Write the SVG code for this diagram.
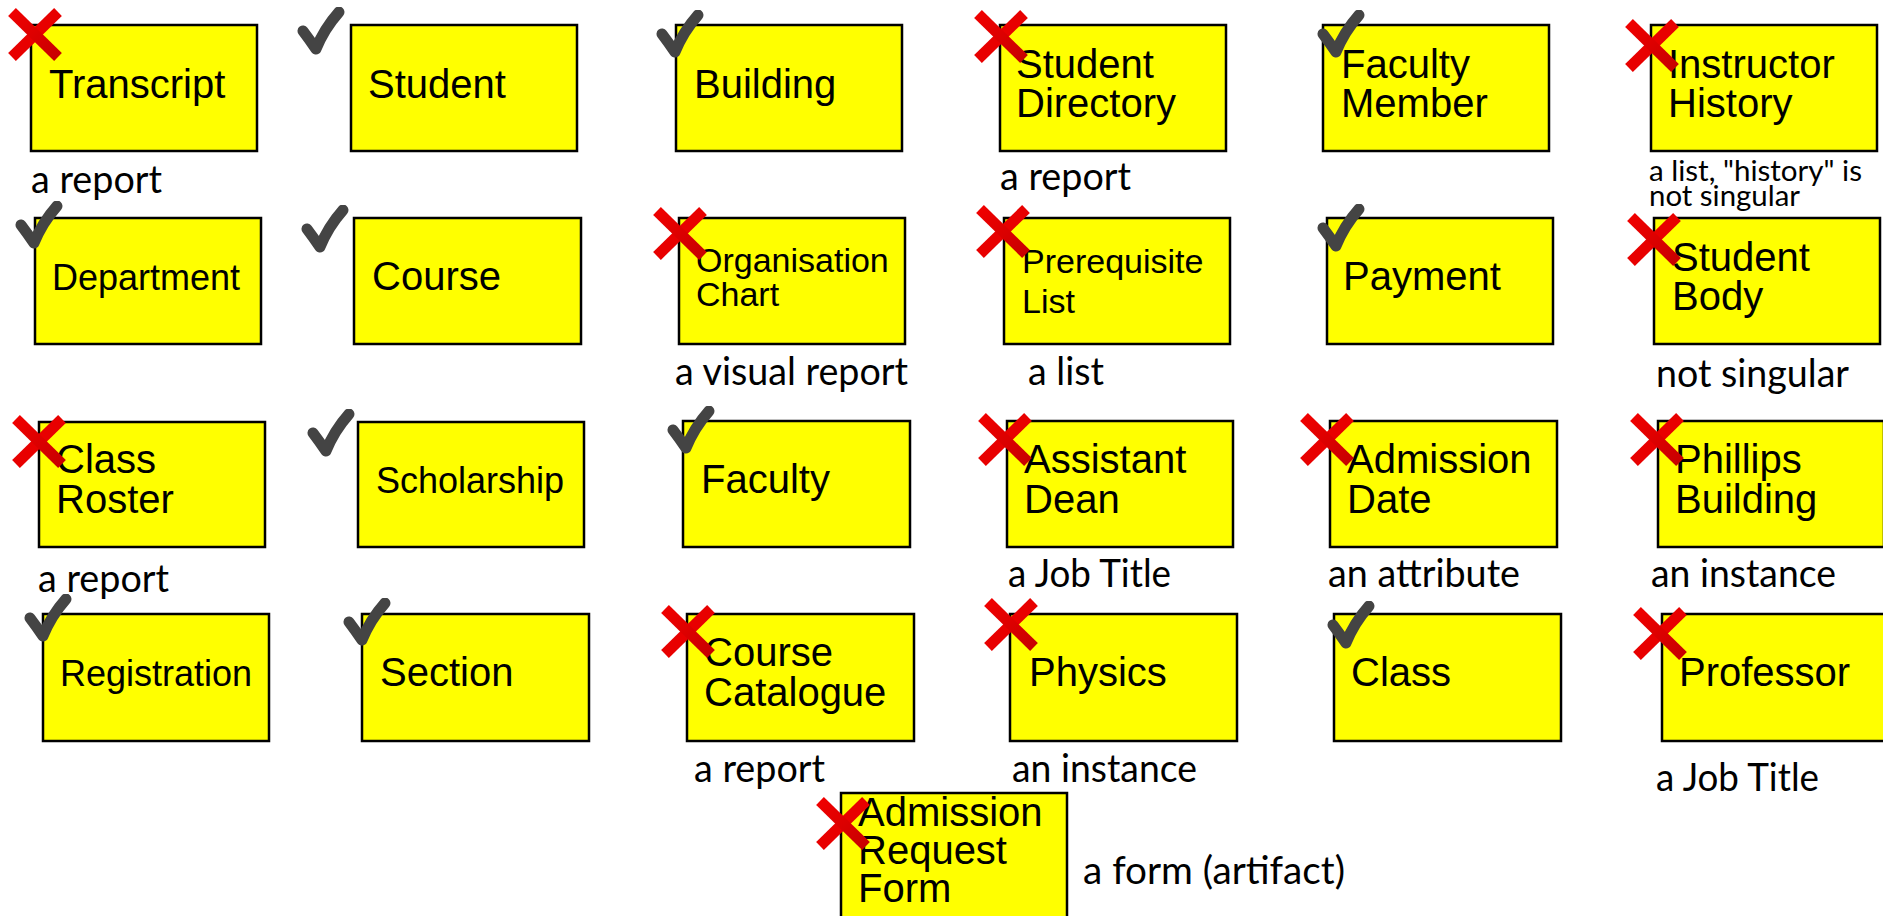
<svg xmlns="http://www.w3.org/2000/svg" xmlns:xlink="http://www.w3.org/1999/xlink" width="1883" height="916" viewBox="0 0 1883 916">
<defs>
  <linearGradient id="xg" x1="0" y1="0" x2="1" y2="1">
    <stop offset="0" stop-color="#f00000"/>
    <stop offset="1" stop-color="#c80000"/>
  </linearGradient>
  <symbol id="cross" viewBox="0 0 54 53">
    <line x1="50" y1="4" x2="4" y2="49" stroke="#e80000" stroke-width="11"/>
    <line x1="4" y1="4" x2="50" y2="49" stroke="url(#xg)" stroke-width="11"/>
  </symbol>
  <symbol id="check" viewBox="0 0 48 48">
    <path d="M6,24 Q12,32 19,42 Q27,22 42,5" fill="none" stroke="#444" stroke-width="11" stroke-linecap="round" stroke-linejoin="round"/>
  </symbol>
</defs>
<style>
  .box{fill:#ffff00;stroke:#000;stroke-width:2.5}
  .lbl{font-family:"Liberation Sans",Arial,sans-serif;font-size:40px;fill:#000}
  .s36{font-size:36px}
  .s34{font-size:34px}
  .note{font-family:Lato,"Open Sans",sans-serif;font-size:39px;fill:#000}
  .small{font-size:29px}
</style>
<rect width="1883" height="916" fill="#fff"/>
<g id="connectors"/>

<g id="n-transcript">
  <rect class="box" x="31" y="25" width="226" height="126"/>
  <text class="lbl" x="49" y="98">Transcript</text>
  <use xlink:href="#cross" x="8" y="8" width="54" height="53"/>
  <text class="note" x="31" y="193" textLength="131" lengthAdjust="spacingAndGlyphs">a report</text>
</g>
<g id="n-student">
  <rect class="box" x="351" y="25" width="226" height="126"/>
  <text class="lbl" x="368" y="98">Student</text>
  <use xlink:href="#check" x="297" y="7" width="48" height="48"/>
</g>
<g id="n-building">
  <rect class="box" x="676" y="25" width="226" height="126"/>
  <text class="lbl" x="694" y="98">Building</text>
  <use xlink:href="#check" x="656" y="10" width="48" height="48"/>
</g>
<g id="n-student-directory">
  <rect class="box" x="1000" y="25" width="226" height="126"/>
  <text class="lbl" x="1016" y="78">Student</text>
  <text class="lbl" x="1016" y="117">Directory</text>
  <use xlink:href="#cross" x="974" y="10" width="54" height="53"/>
  <text class="note" x="1000" y="190" textLength="131" lengthAdjust="spacingAndGlyphs">a report</text>
</g>
<g id="n-faculty-member">
  <rect class="box" x="1323" y="25" width="226" height="126"/>
  <text class="lbl" x="1341" y="78">Faculty</text>
  <text class="lbl" x="1341" y="117">Member</text>
  <use xlink:href="#check" x="1317" y="10" width="48" height="48"/>
</g>
<g id="n-instructor-history">
  <rect class="box" x="1651" y="25" width="226" height="126"/>
  <text class="lbl" x="1668" y="78">Instructor</text>
  <text class="lbl" x="1668" y="117">History</text>
  <use xlink:href="#cross" x="1625" y="19" width="54" height="53"/>
  <text class="note small" x="1649" y="181" textLength="213" lengthAdjust="spacingAndGlyphs">a list, "history" is</text>
  <text class="note small" x="1649" y="206" textLength="151" lengthAdjust="spacingAndGlyphs">not singular</text>
</g>

<g id="n-department">
  <rect class="box" x="35" y="218" width="226" height="126"/>
  <text class="lbl s36" x="52" y="290">Department</text>
  <use xlink:href="#check" x="15" y="201" width="48" height="48"/>
</g>
<g id="n-course">
  <rect class="box" x="354" y="218" width="227" height="126"/>
  <text class="lbl" x="372" y="290">Course</text>
  <use xlink:href="#check" x="301" y="205" width="48" height="48"/>
</g>
<g id="n-organisation-chart">
  <rect class="box" x="679" y="218" width="226" height="126"/>
  <text class="lbl s34" x="696" y="272">Organisation</text>
  <text class="lbl s34" x="696" y="306">Chart</text>
  <use xlink:href="#cross" x="653" y="207" width="54" height="53"/>
  <text class="note" x="675" y="385" textLength="233" lengthAdjust="spacingAndGlyphs">a visual report</text>
</g>
<g id="n-prerequisite-list">
  <rect class="box" x="1004" y="218" width="226" height="126"/>
  <text class="lbl s34" x="1022" y="273">Prerequisite</text>
  <text class="lbl s34" x="1022" y="313">List</text>
  <use xlink:href="#cross" x="976" y="205" width="54" height="53"/>
  <text class="note" x="1028" y="385" textLength="76" lengthAdjust="spacingAndGlyphs">a list</text>
</g>
<g id="n-payment">
  <rect class="box" x="1327" y="218" width="226" height="126"/>
  <text class="lbl" x="1343" y="290">Payment</text>
  <use xlink:href="#check" x="1317" y="204" width="48" height="48"/>
</g>
<g id="n-student-body">
  <rect class="box" x="1654" y="218" width="226" height="126"/>
  <text class="lbl" x="1672" y="271">Student</text>
  <text class="lbl" x="1672" y="310">Body</text>
  <use xlink:href="#cross" x="1627" y="213" width="54" height="53"/>
  <text class="note" x="1656" y="387" textLength="193" lengthAdjust="spacingAndGlyphs">not singular</text>
</g>

<g id="n-class-roster">
  <rect class="box" x="39" y="422" width="226" height="125"/>
  <text class="lbl" x="56" y="473">Class</text>
  <text class="lbl" x="56" y="513">Roster</text>
  <use xlink:href="#cross" x="12" y="415" width="54" height="53"/>
  <text class="note" x="38" y="592" textLength="131" lengthAdjust="spacingAndGlyphs">a report</text>
</g>
<g id="n-scholarship">
  <rect class="box" x="358" y="422" width="226" height="125"/>
  <text class="lbl s36" x="376" y="493">Scholarship</text>
  <use xlink:href="#check" x="307" y="409" width="48" height="48"/>
</g>
<g id="n-faculty">
  <rect class="box" x="683" y="421" width="227" height="126"/>
  <text class="lbl" x="701" y="493">Faculty</text>
  <use xlink:href="#check" x="667" y="406" width="48" height="48"/>
</g>
<g id="n-assistant-dean">
  <rect class="box" x="1007" y="421" width="226" height="126"/>
  <text class="lbl" x="1024" y="473">Assistant</text>
  <text class="lbl" x="1024" y="513">Dean</text>
  <use xlink:href="#cross" x="978" y="413" width="54" height="53"/>
  <text class="note" x="1008" y="587" textLength="163" lengthAdjust="spacingAndGlyphs">a Job Title</text>
</g>
<g id="n-admission-date">
  <rect class="box" x="1330" y="421" width="227" height="126"/>
  <text class="lbl" x="1347" y="473">Admission</text>
  <text class="lbl" x="1347" y="513">Date</text>
  <use xlink:href="#cross" x="1300" y="413" width="54" height="53"/>
  <text class="note" x="1328" y="587" textLength="192" lengthAdjust="spacingAndGlyphs">an attribute</text>
</g>
<g id="n-phillips-building">
  <rect class="box" x="1658" y="421" width="226" height="126"/>
  <text class="lbl" x="1675" y="473">Phillips</text>
  <text class="lbl" x="1675" y="513">Building</text>
  <use xlink:href="#cross" x="1630" y="413" width="54" height="53"/>
  <text class="note" x="1651" y="587" textLength="185" lengthAdjust="spacingAndGlyphs">an instance</text>
</g>

<g id="n-registration">
  <rect class="box" x="43" y="614" width="226" height="127"/>
  <text class="lbl s36" x="60" y="686">Registration</text>
  <use xlink:href="#check" x="24" y="594" width="48" height="48"/>
</g>
<g id="n-section">
  <rect class="box" x="362" y="614" width="227" height="127"/>
  <text class="lbl" x="380" y="686">Section</text>
  <use xlink:href="#check" x="343" y="598" width="48" height="48"/>
</g>
<g id="n-course-catalogue">
  <rect class="box" x="687" y="614" width="227" height="127"/>
  <text class="lbl" x="704" y="666">Course</text>
  <text class="lbl" x="704" y="706">Catalogue</text>
  <use xlink:href="#cross" x="661" y="605" width="54" height="53"/>
  <text class="note" x="694" y="782" textLength="131" lengthAdjust="spacingAndGlyphs">a report</text>
</g>
<g id="n-physics">
  <rect class="box" x="1010" y="614" width="227" height="127"/>
  <text class="lbl" x="1029" y="686">Physics</text>
  <use xlink:href="#cross" x="984" y="598" width="54" height="53"/>
  <text class="note" x="1012" y="782" textLength="185" lengthAdjust="spacingAndGlyphs">an instance</text>
</g>
<g id="n-class">
  <rect class="box" x="1334" y="614" width="227" height="127"/>
  <text class="lbl" x="1351" y="686">Class</text>
  <use xlink:href="#check" x="1327" y="601" width="48" height="48"/>
</g>
<g id="n-professor">
  <rect class="box" x="1662" y="614" width="226" height="127"/>
  <text class="lbl" x="1679" y="686">Professor</text>
  <use xlink:href="#cross" x="1633" y="607" width="54" height="53"/>
  <text class="note" x="1656" y="791" textLength="163" lengthAdjust="spacingAndGlyphs">a Job Title</text>
</g>

<g id="n-admission-request-form">
  <rect class="box" x="841" y="793" width="226" height="130"/>
  <text class="lbl" x="858" y="826">Admission</text>
  <text class="lbl" x="858" y="864">Request</text>
  <text class="lbl" x="858" y="902">Form</text>
  <use xlink:href="#cross" x="816" y="797" width="54" height="53"/>
  <text class="note" x="1083" y="884" textLength="262" lengthAdjust="spacingAndGlyphs">a form (artifact)</text>
</g>
</svg>
